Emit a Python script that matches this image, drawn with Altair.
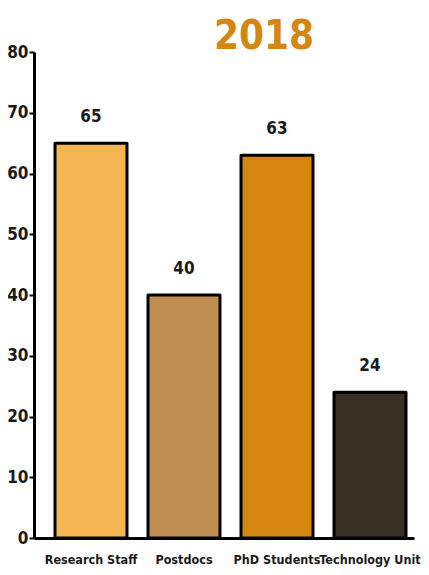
import altair as alt
import pandas as pd

categories = ["Research Staff", "Postdocs", "PhD Students", "Technology Unit"]
values = [65, 40, 63, 24]
colors = ["#F5B553", "#BF8F52", "#D4860F", "#3B3024"]
y_ticks = [0, 10, 20, 30, 40, 50, 60, 70, 80]
title_text = "2018"

df = pd.DataFrame({"category": categories, "value": values})

FONT = "'DejaVu Sans Condensed', 'Liberation Sans Narrow', 'Roboto', sans-serif"

x_enc = alt.X(
    "category:N",
    sort=categories,
    scale=alt.Scale(paddingInner=0.226, paddingOuter=0.156, align=0.724),
    axis=alt.Axis(title=None, labelAngle=0, labelFont=FONT, labelFontSize=12.5,
                  labelFontWeight="bold", labelColor="#1a1a1a", labelPadding=15,
                  ticks=False, domainWidth=3, domainColor="black"),
)
y_enc = alt.Y(
    "value:Q",
    scale=alt.Scale(domain=[0, 80]),
    axis=alt.Axis(title=None, values=y_ticks, grid=False, labelFont=FONT,
                  labelFontSize=17, labelFontWeight="bold", labelColor="#1a1a1a",
                  tickSize=5, tickWidth=2, tickColor="black", labelPadding=1,
                  domainWidth=3, domainColor="black"),
)

base = alt.Chart(df).encode(x=x_enc, y=y_enc)

bars = base.mark_bar(stroke="black", strokeWidth=3, strokeJoin="round").encode(
    color=alt.Color("category:N", scale=alt.Scale(domain=categories, range=colors), legend=None)
)
labels = base.mark_text(dy=-17, baseline="bottom", font=FONT, fontSize=17,
                        fontWeight="bold", color="#1a1a1a").encode(text="value:Q")

chart = (
    (bars + labels)
    .properties(
        width=380,
        height=486,
        title=alt.TitleParams(title_text, font=FONT, fontSize=40, fontWeight="bold",
                              color="#D4860F", anchor="middle", dx=40, dy=14, offset=0),
        padding={"left": 26, "top": 44, "right": 7, "bottom": 31},
        autosize="none",
    )
    .configure_view(stroke=None)
)

chart.save("out.html", embed_options={"renderer": "svg", "actions": False})
